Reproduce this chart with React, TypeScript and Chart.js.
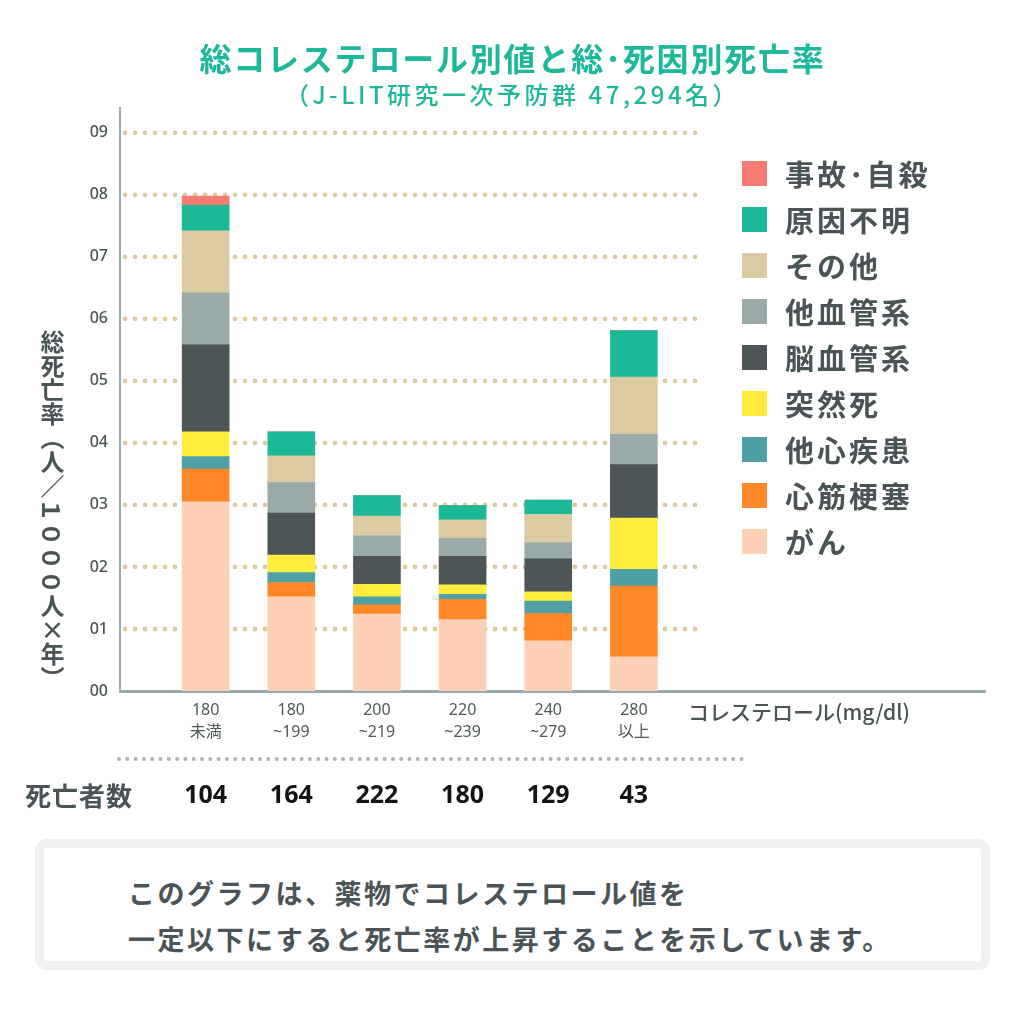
import React, { useEffect, useRef } from 'react';
import { Chart, registerables } from 'chart.js';

Chart.register(...registerables);

// ---- data ----
const categories: string[][] = [
  ['180', '未満'],
  ['180', '~199'],
  ['200', '~219'],
  ['220', '~239'],
  ['240', '~279'],
  ['280', '以上'],
];
const deathCounts = [104, 164, 222, 180, 129, 43];
const yTickLabels = ['00', '01', '02', '03', '04', '05', '06', '07', '08', '09'];

const seriesNames = ['がん', '心筋梗塞', '他心疾患', '突然死', '脳血管系', '他血管系', 'その他', '原因不明', '事故･自殺'];
const seriesColors = ['#fed1b7', '#fe8826', '#4fa0a5', '#ffec3c', '#4d5557', '#99aaa9', '#dccaa3', '#1cb999', '#f47b72'];

const gan = [3.05, 1.52, 1.24, 1.15, 0.81, 0.55];
const shinkinKosoku = [0.53, 0.23, 0.15, 0.33, 0.44, 1.14];
const taShinShikkan = [0.2, 0.16, 0.13, 0.08, 0.2, 0.27];
const totsuzenshi = [0.4, 0.28, 0.2, 0.15, 0.15, 0.83];
const noKekkan = [1.4, 0.68, 0.45, 0.46, 0.53, 0.86];
const taKekkan = [0.84, 0.49, 0.33, 0.29, 0.26, 0.49];
const sonota = [1.0, 0.43, 0.32, 0.3, 0.46, 0.92];
const geninFumei = [0.41, 0.39, 0.33, 0.23, 0.23, 0.75];
const jikoJisatsu = [0.15, 0, 0, 0, 0, 0];

const seriesValues = [gan, shinkinKosoku, taShinShikkan, totsuzenshi, noKekkan, taKekkan, sonota, geninFumei, jikoJisatsu];

const TEXT = '#4a5456';
const JP = '"Noto Sans CJK JP", "Noto Sans", sans-serif';

const decorPlugin = {
  id: 'decor',
  beforeDatasetsDraw(chart: any) {
    const ctx = chart.ctx;
    const ys = chart.scales.y;
    ctx.save();
    ctx.fillStyle = '#dccba0';
    for (let v = 1; v <= 9; v++) {
      const py = ys.getPixelForValue(v);
      for (let px = chart.chartArea.left + 5; px <= 698; px += 10) {
        ctx.beginPath();
        ctx.arc(px, py, 2.4, 0, Math.PI * 2);
        ctx.fill();
      }
    }
    ctx.restore();
  },
  afterDraw(chart: any) {
    const ctx = chart.ctx;
    const xs = chart.scales.x;
    ctx.save();
    // unit label
    ctx.fillStyle = TEXT;
    ctx.font = `500 21px ${JP}`;
    ctx.textAlign = 'left';
    ctx.textBaseline = 'middle';
    ctx.fillText('コレステロール(mg/dl)', 688, 712);
    // separator dots
    ctx.fillStyle = '#a9b6b6';
    for (let px = 119; px <= 742; px += 8.3) {
      ctx.beginPath();
      ctx.arc(px, 759, 2, 0, Math.PI * 2);
      ctx.fill();
    }
    // counts header
    ctx.fillStyle = TEXT;
    ctx.font = `bold 26px ${JP}`;
    ctx.textAlign = 'left';
    (ctx as any).letterSpacing = '1px';
    ctx.fillText('死亡者数', 25, 796);
    (ctx as any).letterSpacing = '0px';
    ctx.fillStyle = '#141414';
    ctx.font = 'bold 25px "Noto Sans", sans-serif';
    ctx.textAlign = 'center';
    deathCounts.forEach((n, i) => {
      ctx.fillText(String(n), xs.getPixelForValue(i + 1), 796);
    });
    ctx.restore();
  },
};

export default function App() {
  const ref = useRef<HTMLCanvasElement>(null);

  useEffect(() => {
    if (!ref.current) return;
    const datasets = seriesNames.map((name, si) => ({
      label: name,
      data: seriesValues[si].map((v, i) => ({ x: i + 1, y: v })),
      backgroundColor: seriesColors[si],
      borderWidth: 0,
      barThickness: 47,
    }));
    const chart = new Chart(ref.current, {
      type: 'bar',
      data: { datasets },
      options: {
        animation: false,
        responsive: false,
        devicePixelRatio: 1,
        layout: { padding: { left: 0, right: 40, top: 108, bottom: 0 } },
        plugins: { legend: { display: false }, tooltip: { enabled: false }, title: { display: false } },
        scales: {
          x: {
            type: 'linear',
            stacked: true,
            offset: false,
            min: 0,
            max: 10.1,
            grid: { display: false, drawTicks: false, offset: false },
            border: { color: '#9aabab', width: 3 },
            ticks: {
              stepSize: 1,
              autoSkip: false,
              maxRotation: 0,
              padding: 8,
              color: '#4f595b',
              font: { family: '"Noto Sans", "Noto Sans CJK JP", sans-serif', size: 16, lineHeight: 1.4 },
              callback: (v: any) => {
                const i = Number(v);
                if (Number.isInteger(i) && i >= 1 && i <= categories.length) return categories[i - 1];
                return '';
              },
            },
            afterFit: (s: any) => {
              s.height = 334;
            },
          },
          y: {
            stacked: true,
            min: 0,
            max: 9.4,
            grid: { display: false, drawTicks: false },
            border: { color: '#9aabab', width: 2 },
            ticks: {
              stepSize: 1,
              padding: 12,
              color: TEXT,
              font: { family: '"Noto Sans", sans-serif', size: 16, weight: '500' },
              callback: (v: any) => {
                const i = Number(v);
                return Number.isInteger(i) && i >= 0 && i < yTickLabels.length ? yTickLabels[i] : '';
              },
            },
            afterFit: (s: any) => {
              s.width = 120;
            },
          },
        },
      },
      plugins: [decorPlugin],
    } as any);
    return () => chart.destroy();
  }, []);

  const legendOrder = seriesNames.map((n, i) => i).reverse();

  return (
    <div style={{ position: 'absolute', left: 0, top: 0, width: 1025, height: 1025, background: '#fff', overflow: 'hidden' }}>
      <canvas ref={ref} width={1025} height={1025} style={{ position: 'absolute', left: 0, top: 0, width: 1025, height: 1025 }} />
      <div
        style={{
          position: 'absolute', left: 0, top: 37, width: 1025, textAlign: 'center',
          fontFamily: JP, fontWeight: 700, fontSize: 32, lineHeight: '40px', color: '#1db89a', letterSpacing: '1.8px',
        }}
      >
        総コレステロール別値と総･死因別死亡率
      </div>
      <div
        style={{
          position: 'absolute', left: 0, top: 79, width: 1025, textAlign: 'center',
          fontFamily: JP, fontWeight: 500, fontSize: 24, lineHeight: '30px', color: '#1db89a', letterSpacing: '3.5px',
        }}
      >
        （J-LIT研究一次予防群 47,294名）
      </div>
      <div
        style={{
          position: 'absolute', left: 40, top: 330, width: 25, lineHeight: '25px',
          writingMode: 'vertical-rl', fontFamily: JP, fontWeight: 700, fontSize: 24, color: TEXT, whiteSpace: 'nowrap',
        }}
      >
        総死亡率（人／<span style={{ textOrientation: 'sideways' }}>１０００</span>人×年）
      </div>
      {legendOrder.map((si, k) => (
        <div key={si} style={{ position: 'absolute', left: 742, top: 161 + 46 * k, height: 25, display: 'flex', alignItems: 'center' }}>
          <div style={{ width: 25, height: 25, background: seriesColors[si] }} />
          <div
            style={{
              marginLeft: 18, fontFamily: JP, fontWeight: 700, fontSize: 29, color: TEXT, letterSpacing: '3px',
              lineHeight: '25px', whiteSpace: 'nowrap',
            }}
          >
            {seriesNames[si]}
          </div>
        </div>
      ))}
      <div
        style={{
          position: 'absolute', left: 35, top: 839, width: 955, height: 131, boxSizing: 'border-box',
          border: '9px solid #f0f0f0', borderRadius: 12, background: '#fff',
        }}
      >
        <div
          style={{
            position: 'absolute', left: 84, top: 22, fontFamily: JP, fontWeight: 700, fontSize: 27,
            color: TEXT, letterSpacing: '2.5px', lineHeight: '46px', whiteSpace: 'nowrap',
          }}
        >
          このグラフは、薬物でコレステロール値を
          <br />
          一定以下にすると死亡率が上昇することを示しています。
        </div>
      </div>
    </div>
  );
}
